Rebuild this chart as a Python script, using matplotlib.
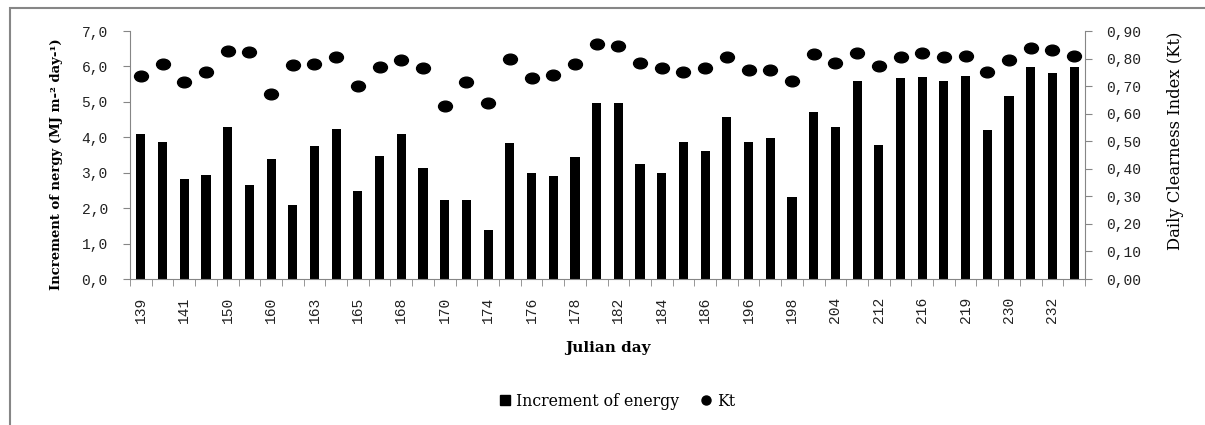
import numpy as np
import matplotlib.pyplot as plt
from matplotlib.patches import Rectangle
from matplotlib.lines import Line2D
from matplotlib.path import Path
from matplotlib.transforms import Affine2D

plt.rcParams['font.family'] = ['DejaVu Serif']

# Julian days shown on the axis (every second bar is labelled)
day_labels = ['139', '141', '150', '160', '163', '165', '168', '170', '174', '176', '178',
              '182', '184', '186', '196', '198', '204', '212', '216', '219', '230', '232']

# increment of energy (MJ m-2 day-1), one per bar
energy = [4.08, 3.86, 2.83, 2.94, 4.28, 2.66, 3.40, 2.10, 3.74, 4.22, 2.47, 3.46,
          4.10, 3.14, 2.23, 2.23, 1.38, 3.84, 2.99, 2.92, 3.43, 4.98, 4.98, 3.25,
          2.99, 3.88, 3.62, 4.58, 3.88, 3.98, 2.31, 4.72, 4.29, 5.60, 3.78, 5.66,
          5.71, 5.60, 5.74, 4.21, 5.17, 5.98, 5.82, 5.98]

# daily clearness index Kt
kt = [0.737, 0.779, 0.714, 0.750, 0.828, 0.824, 0.670, 0.775, 0.779, 0.804, 0.699,
      0.768, 0.795, 0.767, 0.628, 0.716, 0.638, 0.799, 0.729, 0.740, 0.781, 0.852,
      0.847, 0.785, 0.766, 0.752, 0.766, 0.807, 0.757, 0.758, 0.717, 0.815, 0.784,
      0.819, 0.773, 0.806, 0.820, 0.807, 0.810, 0.750, 0.795, 0.838, 0.830, 0.809]

grey = '#868686'
tick_font = {'family': 'Liberation Mono', 'size': 10.5, 'color': '#222222'}
x = np.arange(len(energy))

# slightly flattened dot, like the original
ellipse = Affine2D().scale(1.0, 0.77).transform_path(Path.unit_circle())

fig = plt.figure(figsize=(12.05, 4.25), dpi=100)
ax = fig.add_axes([130 / 1205, 1 - 279 / 425, 955 / 1205, 248 / 425])

# outer chart frame
fig.patches.append(Rectangle((10 / 1205, -0.1), 1.2, 1 - 8 / 425 + 0.1, transform=fig.transFigure,
                             fill=False, edgecolor=grey, linewidth=1.5))

ax.bar(x, energy, width=0.42, color='black')
ax.set_xlim(-0.5, len(energy) - 0.5)
ax.set_ylim(0, 7)
ax.set_yticks(np.arange(0, 7.01, 1.0))
ax.set_yticklabels([f'{v:.1f}'.replace('.', ',') for v in np.arange(0, 7.01, 1.0)], fontdict=tick_font)

ax.set_xticks(x[::2])
ax.set_xticklabels(day_labels, rotation=90, fontdict=tick_font)
ax.set_xticks(np.arange(-0.5, len(energy), 1), minor=True)
ax.tick_params(axis='x', which='major', length=0, pad=13)
ax.tick_params(axis='x', which='minor', length=5, color=grey, direction='out')
ax.tick_params(axis='y', length=5, color=grey, pad=11)

ax2 = ax.twinx()
ax2.plot(x, kt, linestyle='none', marker=ellipse, color='black', markersize=10)
ax2.set_ylim(0, 0.9)
ax2.set_yticks(np.arange(0, 0.901, 0.1))
ax2.set_yticklabels([f'{v:.2f}'.replace('.', ',') for v in np.arange(0, 0.901, 0.1)], fontdict=tick_font)
ax2.tick_params(axis='y', length=5, color=grey, pad=10)

for a in (ax, ax2):
    a.spines['top'].set_visible(False)
    for s in ('left', 'right', 'bottom'):
        a.spines[s].set_color(grey)
ax.spines['right'].set_visible(False)
ax2.spines['left'].set_visible(False)
ax2.spines['bottom'].set_visible(False)

ax.set_ylabel('Increment of nergy (MJ m-² day-¹)', fontsize=9.5, fontweight='bold')
ax.yaxis.set_label_coords(-67 / 955, (279 - 164) / 248)
ax2.set_ylabel('Daily Clearness Index (Kt)', fontsize=11.8)
ax2.yaxis.set_label_coords(1 + 82 / 955, (279 - 141) / 248)
ax.set_xlabel('Julian day', fontsize=11, fontweight='bold', labelpad=13)

handles = [Line2D([], [], marker='s', color='black', linestyle='none', markersize=6.5),
           Line2D([], [], marker='o', color='black', linestyle='none', markersize=6.5)]
fig.legend(handles, ['Increment of energy', 'Kt'], loc='center', ncol=2,
           bbox_to_anchor=(616 / 1205, 1 - 401 / 425), frameon=False, fontsize=11.3,
           handletextpad=0.2, columnspacing=1.2, handlelength=1.0)

fig.savefig('out.png', dpi=100)
